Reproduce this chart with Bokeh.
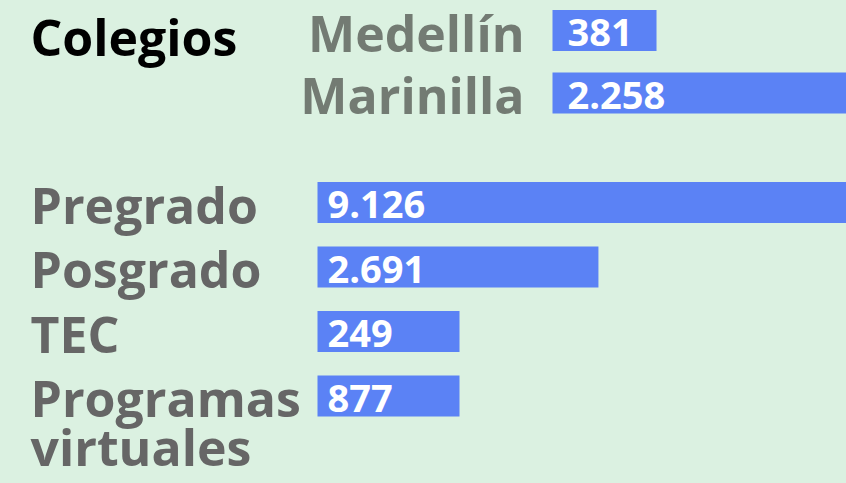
from bokeh.plotting import figure
from bokeh.models import Range1d, ColumnDataSource
from bokeh.core.properties import value
from bokeh.embed import file_html
from bokeh.resources import INLINE

# ---- data ----
group_title = "Colegios"
colegios = ["Medellín", "Marinilla"]
colegios_values = [381, 2258]
colegios_texts = ["381", "2.258"]
programas = ["Pregrado", "Posgrado", "TEC", "Programas virtuales"]
programas_values = [9126, 2691, 249, 877]
programas_texts = ["9.126", "2.691", "249", "877"]

# ---- layout / style ----
W, H = 846, 483
BG = "#DBF1E1"
BAR = "#5B82F5"
FONT = "Open Sans"
MAIN_ORIGIN = 317          # px from figure left where main bars start
MAIN_K = 0.1044            # px per unit
MIN_BAR_PX = 142           # minimum bar length in px
COL_ORIGIN = 552
COL_K = 0.273
PITCH = 64.5
COL_PITCH = 62.5
COL_TOP = 30
MAIN_TOP = 202
BAR_H = 41
LAB_SIZE = "50px"
NUM_SIZE = "38px"

p = figure(width=W, height=H, output_backend="svg", toolbar_location=None,
           x_range=Range1d(-MAIN_ORIGIN / MAIN_K, (W - MAIN_ORIGIN) / MAIN_K),
           y_range=Range1d(H, 0), min_border=0)
p.extra_x_ranges["col"] = Range1d(-COL_ORIGIN / COL_K, (W - COL_ORIGIN) / COL_K)
p.extra_x_ranges["px"] = Range1d(0, W)
p.axis.visible = False
p.grid.visible = False
p.outline_line_color = None
p.background_fill_color = BG
p.border_fill_color = BG

col_y = [COL_TOP + i * COL_PITCH for i in range(len(colegios))]
main_y = [MAIN_TOP + i * PITCH for i in range(len(programas))]

min_units = MIN_BAR_PX / MAIN_K
main_len = [max(v, min_units) for v in programas_values]
line1 = [s.split(" ", 1)[0] for s in programas]
second = [(y, s.split(" ", 1)[1]) for y, s in zip(main_y, programas) if " " in s]

src_col = ColumnDataSource(dict(y=col_y, v=colegios_values, t=colegios_texts, lab=colegios))
src_main = ColumnDataSource(dict(y=main_y, v=main_len, t=programas_texts, l1=line1))
src_l2 = ColumnDataSource(dict(y=[a for a, _ in second], l2=[b for _, b in second]))

p.hbar(y="y", left=0, right="v", height=BAR_H, source=src_col, x_range_name="col",
       fill_color=BAR, line_color=None)
p.hbar(y="y", left=0, right="v", height=BAR_H, source=src_main,
       fill_color=BAR, line_color=None)

num_kw = dict(text_color="white", text_font=value(FONT), text_font_style="bold",
              text_font_size=NUM_SIZE, text_baseline="alphabetic")
p.text(x=0, y="y", text="t", source=src_col, x_range_name="col", x_offset=15, y_offset=2, **num_kw)
p.text(x=0, y="y", text="t", source=src_main, x_offset=10, y_offset=2, **num_kw)

lab_kw = dict(text_font=value(FONT), text_font_style="bold", text_font_size=LAB_SIZE,
              text_baseline="alphabetic")
p.text(x=524, y="y", text="lab", source=src_col, x_range_name="px", y_offset=2,
       text_color="#737B73", text_align="right", **lab_kw)
p.text(x=30, y="y", text="l1", source=src_main, x_range_name="px", y_offset=2,
       text_color="#666666", text_align="left", **lab_kw)
p.text(x=30, y="y", text="l2", source=src_l2, x_range_name="px", y_offset=51,
       text_color="#666666", text_align="left", **lab_kw)
p.text(x=[30], y=[col_y[0]], text=[group_title], x_range_name="px", y_offset=6,
       text_color="#000000", text_align="left", **lab_kw)

html = file_html(p, INLINE)
html = html.replace("</head>",
                    "<style>html,body{background-color:%s;margin:0;overflow:hidden;}</style></head>" % BG, 1)
open("out.html", "w").write(html)
